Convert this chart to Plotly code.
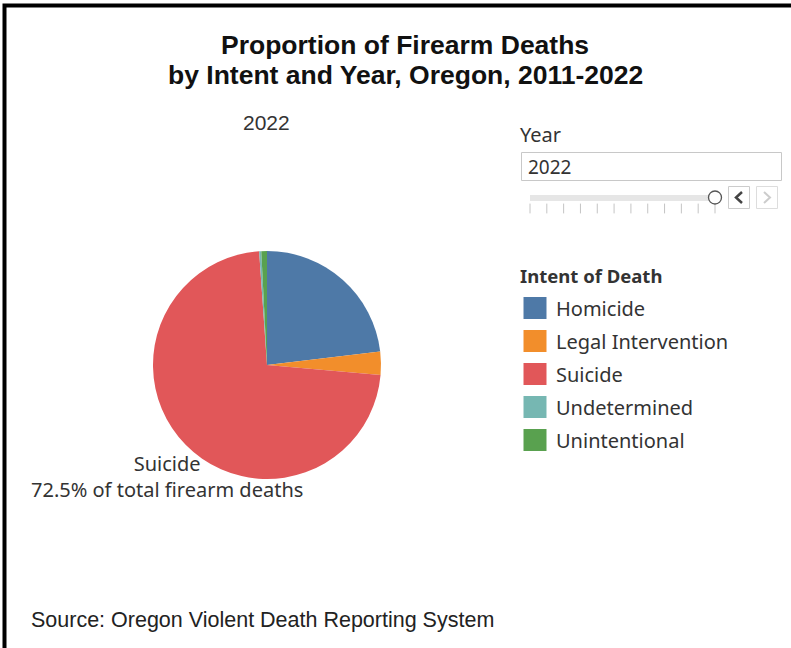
import plotly.graph_objects as go

# ---- data ----
intents = ["Homicide", "Legal Intervention", "Suicide", "Undetermined", "Unintentional"]
percent_2022 = [23.1, 3.3, 72.5, 0.3, 0.8]
colors = ["#4e79a7", "#f28e2b", "#e15759", "#76b7b2", "#59a14f"]
years = list(range(2011, 2023))
selected_year = 2022
title_lines = ["Proportion of Firearm Deaths", "by Intent and Year, Oregon, 2011-2022"]

W, H = 791, 648
TXT = "#333333"
TAB_FONT = "Noto Sans"
ARIAL = "Liberation Sans"

fig = go.Figure()

# pie
fig.add_trace(go.Pie(
    labels=intents, values=percent_2022,
    marker=dict(colors=colors, line=dict(width=0)),
    sort=False, direction="clockwise", rotation=0,
    textinfo="none", hoverinfo="label+percent", showlegend=False,
    domain=dict(x=[153 / W, 381 / W], y=[1 - 479 / H, 1 - 251 / H]),
))

# year slider ticks (pixel coordinate axes)
x0, x1 = 530, 715
def yx(y):
    return x0 + (x1 - x0) * (y - years[0]) / (years[-1] - years[0])

fig.add_trace(go.Scatter(
    x=[yx(y) for y in years], y=[208.5] * len(years), mode="markers",
    marker=dict(symbol="line-ns", size=7, line=dict(color="#c4c4c4", width=1)),
    hoverinfo="skip", showlegend=False,
))

shapes = []
ann = []

# frame (cropped border: left & top)
shapes.append(dict(type="rect", x0=4.5, y0=5.5, x1=W + 10, y1=H + 10,
                   line=dict(color="#000000", width=4), fillcolor="rgba(0,0,0,0)", layer="above"))

# title
for i, line in enumerate(title_lines):
    ann.append(dict(x=405, y=45 + 30 * i, text=f"<b>{line}</b>",
                    showarrow=False, font=dict(family=ARIAL, size=26.5, color="#111111"),
                    xanchor="center", yanchor="middle", align="center"))
# year header
ann.append(dict(x=266, y=122, text=str(selected_year), showarrow=False,
                font=dict(family=ARIAL, size=21, color=TXT), xanchor="center", yanchor="middle"))
# suicide label
idx = intents.index("Suicide")
ann.append(dict(x=167, y=476.5, text=f"{intents[idx]}<br>{percent_2022[idx]:.1f}% of total firearm deaths",
                showarrow=False, font=dict(family=TAB_FONT, size=20, color=TXT),
                xanchor="center", yanchor="middle", align="center"))
# source
ann.append(dict(x=29, y=620, text="Source: Oregon Violent Death Reporting System", showarrow=False,
                font=dict(family=ARIAL, size=21.5, color="#222222"), xanchor="left", yanchor="middle"))

# Year filter widget
ann.append(dict(x=518, y=134, text="Year", showarrow=False,
                font=dict(family=TAB_FONT, size=20, color=TXT), xanchor="left", yanchor="middle"))
shapes.append(dict(type="rect", x0=521.5, y0=152.5, x1=781.5, y1=180.5,
                   line=dict(color="#c8c8c8", width=1), fillcolor="white"))
ann.append(dict(x=526, y=167, text=str(selected_year), showarrow=False,
                font=dict(family=TAB_FONT, size=19, color=TXT), xanchor="left", yanchor="middle"))
shapes.append(dict(type="rect", x0=530, y0=195, x1=yx(selected_year) - 4, y1=201,
                   line=dict(width=0), fillcolor="#e6e6e6"))
cx = yx(selected_year)
shapes.append(dict(type="circle", x0=cx - 6.5, y0=197.5 - 6.5, x1=cx + 6.5, y1=197.5 + 6.5,
                   line=dict(color="#555555", width=1.3), fillcolor="white"))
# prev / next buttons
shapes.append(dict(type="rect", x0=728.5, y0=186.5, x1=749.5, y1=208.5,
                   line=dict(color="#cccccc", width=1), fillcolor="white"))
shapes.append(dict(type="path", path="M 742 192 L 736 197.5 L 742 203",
                   line=dict(color="#444444", width=2.5)))
shapes.append(dict(type="rect", x0=756.5, y0=186.5, x1=777.5, y1=208.5,
                   line=dict(color="#dddddd", width=1), fillcolor="white"))
shapes.append(dict(type="path", path="M 764 192 L 770 197.5 L 764 203",
                   line=dict(color="#cccccc", width=2)))

# legend
ann.append(dict(x=518, y=275, text="<b>Intent of Death</b>", showarrow=False,
                font=dict(family=TAB_FONT, size=18.5, color=TXT), xanchor="left", yanchor="middle"))
for i, (lab, col) in enumerate(zip(intents, colors)):
    yc = 308 + 33 * i
    shapes.append(dict(type="rect", x0=523.5, y0=yc - 11, x1=546.5, y1=yc + 11,
                       line=dict(width=0), fillcolor=col))
    ann.append(dict(x=554, y=yc, text=lab, showarrow=False,
                    font=dict(family=TAB_FONT, size=20, color=TXT), xanchor="left", yanchor="middle"))

fig.update_layout(
    width=W, height=H, autosize=False,
    margin=dict(l=0, r=0, t=0, b=0),
    paper_bgcolor="white", plot_bgcolor="rgba(0,0,0,0)",
    xaxis=dict(range=[0, W], domain=[0, 1], visible=False, fixedrange=True),
    yaxis=dict(range=[H, 0], domain=[0, 1], visible=False, fixedrange=True),
    shapes=shapes, annotations=ann,
)
fig.write_html("out.html")
